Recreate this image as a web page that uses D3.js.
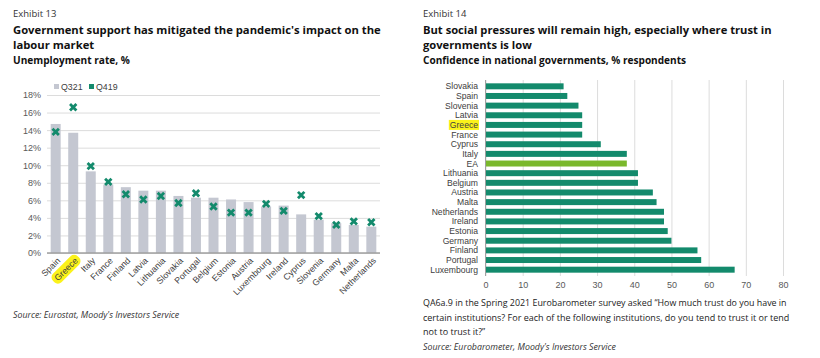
<!DOCTYPE html>
<html><head><meta charset="utf-8">
<script src="https://cdn.jsdelivr.net/npm/d3@7"></script>
<style>
body{margin:0;background:#fff;}
svg{display:block;}
</style></head>
<body>
<svg id="c" width="820" height="358"></svg>
<script>
// ---------- DATA ----------
const unempCountries = ["Spain","Greece","Italy","France","Finland","Latvia","Lithuania","Slovakia","Portugal","Belgium","Estonia","Austria","Luxembourg","Ireland","Cyprus","Slovenia","Germany","Malta","Netherlands"];
const q321 = [14.7,13.7,9.3,7.8,7.5,7.1,7.1,6.5,6.3,6.3,6.1,5.8,5.3,5.4,4.4,3.8,3.4,3.2,3.0];
const q419 = [13.8,16.6,9.9,8.1,6.7,6.1,6.5,5.7,6.8,5.3,4.6,4.6,5.6,4.8,6.6,4.2,3.2,3.6,3.5];
const unempTicks = [0,2,4,6,8,10,12,14,16,18];

const trustCountries = ["Slovakia","Spain","Slovenia","Latvia","Greece","France","Cyprus","Italy","EA","Lithuania","Belgium","Austria","Malta","Netherlands","Ireland","Estonia","Germany","Finland","Portugal","Luxembourg"];
const trustValues = [21,22,25,26,26,26,31,38,38,41,41,45,46,48,48,49,50,57,58,67];
const trustTicks = [0,10,20,30,40,50,60,70,80];

// ---------- STYLE ----------
const svg = d3.select("#c");
const titleFont = "'Open Sans', 'Noto Sans', sans-serif";
const chartFont = "'Liberation Sans', Arial, sans-serif";
const teal = "#138a6c", lime = "#7ab82c", barGrey = "#c4c7d1", grid = "#dcdcdc", axisCol = "#a0a0a0", lab = "#404040";

function fitText(sel, width){
  const n = sel.node(); const w = n.getComputedTextLength();
  const fs = parseFloat(sel.attr("font-size"));
  sel.attr("font-size", (fs*width/w).toFixed(2));
}
function header(x, exhibit, l1, w1, l2, sub, wsub){
  svg.append("text").attr("x",x).attr("y",17).attr("font-family",titleFont).attr("font-size",9.5).attr("fill","#333").text(exhibit);
  const t1 = svg.append("text").attr("x",x).attr("y",34).attr("font-family",titleFont).attr("font-weight",700).attr("font-size",12).attr("fill","#111").text(l1);
  fitText(t1,w1);
  const fs = t1.attr("font-size");
  svg.append("text").attr("x",x).attr("y",49).attr("font-family",titleFont).attr("font-weight",700).attr("font-size",fs).attr("fill","#111").text(l2);
  const s = svg.append("text").attr("x",x).attr("y",64).attr("font-family",titleFont).attr("font-weight",700).attr("font-size",10.5).attr("fill","#111").text(sub);
  fitText(s,wsub);
}
header(13,"Exhibit 13","Government support has mitigated the pandemic's impact on the",368,"labour market","Unemployment rate, %",117);
header(423,"Exhibit 14","But social pressures will remain high, especially where trust in",349,"governments is low","Confidence in national governments, % respondents",263);

// ---------- LEFT CHART ----------
const xL = d3.scaleBand().domain(unempCountries).range([47,380]).paddingInner(0.43).paddingOuter(0.21);
const yL = d3.scaleLinear().domain([0,18]).range([253,95]);

const gL = svg.append("g");
gL.append("g").attr("transform","translate(47,0)")
  .call(d3.axisLeft(yL).tickValues(unempTicks).tickSize(-333).tickFormat(d=>d+"%"))
  .call(g=>g.select(".domain").remove())
  .call(g=>g.selectAll(".tick line").attr("stroke",grid).attr("stroke-width",1))
  .call(g=>g.selectAll(".tick text").attr("x",-6).attr("fill","#595959").attr("font-size",9).attr("font-family",chartFont));

gL.selectAll("rect.bar").data(unempCountries).join("rect")
  .attr("x",d=>xL(d)).attr("width",xL.bandwidth())
  .attr("y",(d,i)=>yL(q321[i])).attr("height",(d,i)=>yL(0)-yL(q321[i]))
  .attr("fill",barGrey);

gL.append("line").attr("x1",47).attr("x2",380).attr("y1",yL(0)).attr("y2",yL(0)).attr("stroke",axisCol).attr("stroke-width",1.3);

const mk = 3.2;
gL.selectAll("path.mk").data(unempCountries).join("path")
  .attr("transform",(d,i)=>`translate(${xL(d)+xL.bandwidth()/2},${yL(q419[i])})`)
  .attr("d",`M${-mk},${-mk}L${mk},${mk}M${mk},${-mk}L${-mk},${mk}`)
  .attr("stroke",teal).attr("stroke-width",2.8).attr("fill","none");

// x labels rotated
const xlab = gL.append("g");
unempCountries.forEach(c=>{
  const cx = xL(c)+xL.bandwidth()/2+3, cy = 259;
  const g = xlab.append("g").attr("transform",`translate(${cx},${cy}) rotate(-45)`);
  const hl = g.append("g");
  const t = g.append("text").attr("text-anchor","end").attr("dy","0.35em")
    .attr("font-family",chartFont).attr("font-size",8.8).attr("fill",lab).text(c);
  if(c==="Greece"){
    const w = t.node().getComputedTextLength();
    hl.append("rect").attr("x",-w-3).attr("y",-6).attr("width",w+6).attr("height",12).attr("rx",5).attr("fill","#fbf21a");
  }
});

// legend
svg.append("rect").attr("x",54).attr("y",84).attr("width",5).attr("height",5).attr("fill",barGrey);
svg.append("text").attr("x",61).attr("y",89.5).attr("font-family",chartFont).attr("font-size",8.8).attr("fill",lab).text("Q321");
svg.append("rect").attr("x",89).attr("y",84).attr("width",5).attr("height",5).attr("fill",teal);
svg.append("text").attr("x",96).attr("y",89.5).attr("font-family",chartFont).attr("font-size",8.8).attr("fill",lab).text("Q419");

svg.append("text").attr("x",13).attr("y",318).attr("font-family",titleFont).attr("font-style","italic").attr("font-size",8.8).attr("fill","#333").text("Source: Eurostat, Moody's Investors Service");

// ---------- RIGHT CHART ----------
const xR = d3.scaleLinear().domain([0,80]).range([485.5,783]);
const yR = d3.scaleBand().domain(trustCountries).range([81.4,274.6]).paddingInner(0.38).paddingOuter(0.2);

const gR = svg.append("g");
gR.append("g").attr("transform","translate(0,276)")
  .call(d3.axisBottom(xR).tickValues(trustTicks).tickSize(-196))
  .call(g=>g.select(".domain").remove())
  .call(g=>g.selectAll(".tick line").attr("stroke",grid))
  .call(g=>g.selectAll(".tick text").attr("y",6).attr("fill","#595959").attr("font-size",9).attr("font-family",chartFont));

gR.selectAll("rect.bar").data(trustCountries).join("rect")
  .attr("x",xR(0)).attr("y",d=>yR(d)).attr("height",yR.bandwidth())
  .attr("width",(d,i)=>xR(trustValues[i])-xR(0))
  .attr("fill",d=>d==="EA"?lime:teal);

gR.append("line").attr("x1",xR(0)).attr("x2",xR(0)).attr("y1",80).attr("y2",276).attr("stroke",axisCol).attr("stroke-width",1);

const hlR = gR.append("g");
trustCountries.forEach(c=>{
  const y = yR(c)+yR.bandwidth()/2;
  const t = gR.append("text").attr("x",478).attr("y",y).attr("dy","0.35em").attr("text-anchor","end")
    .attr("font-family",chartFont).attr("font-size",8.6).attr("fill",lab).text(c);
  if(c==="Greece"){
    const w = t.node().getComputedTextLength();
    hlR.append("rect").attr("x",478-w-1).attr("y",y-5).attr("width",w+2).attr("height",10).attr("fill","#fbf21a");
  }
});

const note = ["QA6a.9 in the Spring 2021 Eurobarometer survey asked \u201cHow much trust do you have in",
 "certain institutions? For each of the following institutions, do you tend to trust it or tend",
 "not to trust it?\u201d"];
note.forEach((l,i)=>{
  const t = svg.append("text").attr("x",423).attr("y",306+i*14.5).attr("font-family",titleFont).attr("font-size",9).attr("fill","#222").text(l);
  if(i==0) fitText(t,364);
});
svg.append("text").attr("x",423).attr("y",350).attr("font-family",titleFont).attr("font-style","italic").attr("font-size",8.8).attr("fill","#333").text("Source: Eurobarometer, Moody's Investors Service");
</script>
</body></html>
